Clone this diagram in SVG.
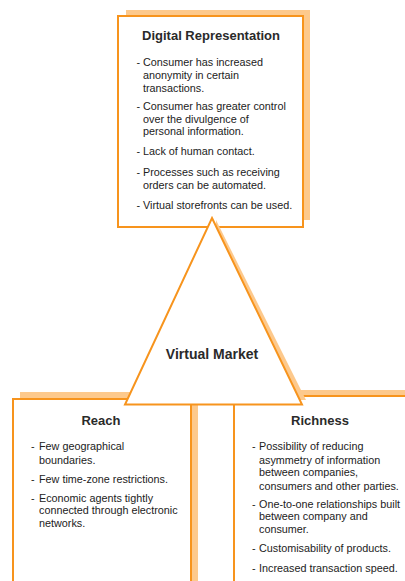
<svg xmlns="http://www.w3.org/2000/svg" width="405" height="581" viewBox="0 0 405 581">
<style>
.sh{fill:#FDC98C;stroke:none}
.box{fill:#fff;stroke:#F7941D;stroke-width:2}
.t{font-family:"Liberation Sans",Arial,sans-serif;font-size:13px;font-weight:bold;fill:#2a2a2a;text-anchor:middle}
.b{font-family:"Liberation Sans",Arial,sans-serif;font-size:10.8px;fill:#222}
</style>
<rect width="405" height="581" fill="#fff"/>
<g id="digital-representation">
<rect class="sh" x="126" y="10" width="184" height="210"/>
<rect class="box" x="118" y="16" width="185" height="211"/>
<text class="t" x="211" y="39.5">Digital Representation</text>
<g class="b">
<text x="136.5" y="66.2">-</text><text x="143" y="66.2">Consumer has increased</text>
<text x="143" y="79">anonymity in certain</text>
<text x="143" y="91.5">transactions.</text>
<text x="136.5" y="110.2">-</text><text x="143" y="110.2">Consumer has greater control</text>
<text x="143" y="122.5">over the divulgence of</text>
<text x="143" y="134.8">personal information.</text>
<text x="136.5" y="155.2">-</text><text x="143" y="155.2">Lack of human contact.</text>
<text x="136.5" y="176.2">-</text><text x="143" y="176.2">Processes such as receiving</text>
<text x="143" y="188.5">orders can be automated.</text>
<text x="136.5" y="208.5">-</text><text x="143" y="208.5">Virtual storefronts can be used.</text>
</g>
</g>
<g id="reach">
<rect class="sh" x="20" y="392" width="178" height="200"/>
<rect class="box" x="13" y="399" width="178" height="200"/>
<text class="t" x="101" y="424.5">Reach</text>
<g class="b">
<text x="31" y="450">-</text><text x="39" y="450">Few geographical</text>
<text x="39" y="463.5">boundaries.</text>
<text x="31" y="482.5">-</text><text x="39" y="482.5">Few time-zone restrictions.</text>
<text x="31" y="501.5">-</text><text x="39" y="501.5">Economic agents tightly</text>
<text x="39" y="514">connected through electronic</text>
<text x="39" y="526.5">networks.</text>
</g>
</g>
<g id="richness">
<rect class="sh" x="241" y="390" width="200" height="200"/>
<rect class="box" x="234" y="396" width="200" height="200"/>
<text class="t" x="320" y="424.5">Richness</text>
<g class="b">
<text x="252" y="450">-</text><text x="259" y="450">Possibility of reducing</text>
<text x="259" y="463.5">asymmetry of information</text>
<text x="259" y="476">between companies,</text>
<text x="259" y="489.5">consumers and other parties.</text>
<text x="252" y="507.5">-</text><text x="259" y="507.5">One-to-one relationships built</text>
<text x="259" y="520">between company and</text>
<text x="259" y="532.8">consumer.</text>
<text x="252" y="552">-</text><text x="259" y="552">Customisability of products.</text>
<text x="252" y="572">-</text><text x="259" y="572">Increased transaction speed.</text>
</g>
</g>
<g id="virtual-market">
<polygon class="sh" points="216,220 306,400 216,400"/>
<polygon points="212,218 302,404.5 125,404.5" fill="#fff" stroke="#F7941D" stroke-width="2" stroke-linejoin="miter"/>
<text class="t" x="212" y="359" style="font-size:14px">Virtual Market</text>
</g>
<g id="connectors"/>
</svg>
